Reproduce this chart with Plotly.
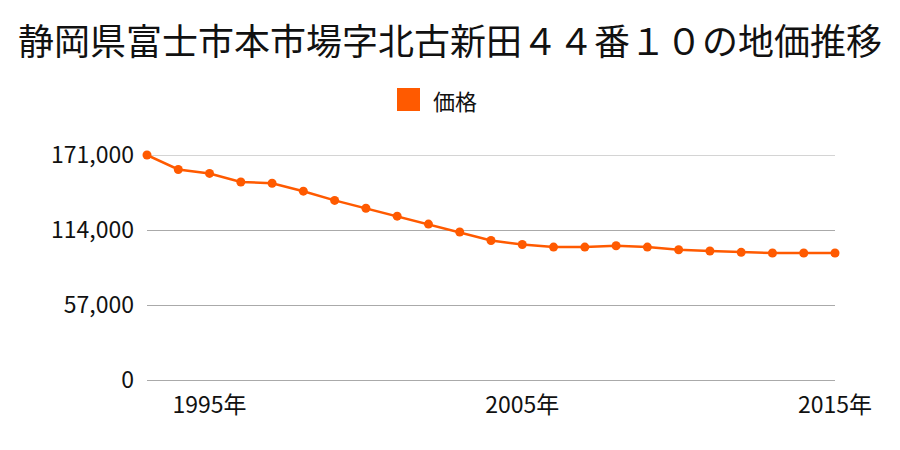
import plotly.graph_objects as go

years = list(range(1993, 2016))
prices = [171000, 160000, 157000, 150500, 149500, 143500, 136500, 130500, 124500,
          118500, 112500, 106000, 103000, 101000, 101000, 102000, 101000, 99000,
          98000, 97000, 96500, 96500, 96500]
y_ticks = [0, 57000, 114000, 171000]
y_labels = ["0", "57,000", "114,000", "171,000"]
x_ticks = [1995, 2005, 2015]
x_labels = ["1995年", "2005年", "2015年"]
title = "静岡県富士市本市場字北古新田４４番１０の地価推移"
series_name = "価格"
color = "#ff5a00"
font = "Noto Sans CJK JP"

fig = go.Figure()
fig.add_trace(go.Scatter(
    x=years, y=prices, mode="lines+markers", name=series_name,
    line=dict(color=color, width=2.5),
    marker=dict(color=color, size=9),
    showlegend=False, cliponaxis=False,
))

fig.update_layout(
    width=900, height=450,
    margin=dict(l=147, r=65, t=155, b=70),
    paper_bgcolor="white", plot_bgcolor="white",
    font=dict(family=font, color="#111111"),
    title=dict(text=title, x=0.5, xanchor="center", y=0.905, yanchor="middle",
               font=dict(size=36, family=font, color="#111111")),
    xaxis=dict(range=[1993, 2015], tickvals=x_ticks, ticktext=x_labels,
               showgrid=False, zeroline=False, showline=False,
               ticks="", tickfont=dict(size=23), ticklabelstandoff=9),
    yaxis=dict(range=[0, y_ticks[-1]], tickvals=y_ticks, ticktext=y_labels,
               showgrid=True, gridcolor="#aaaaaa", gridwidth=1,
               zeroline=True, zerolinecolor="#aaaaaa", zerolinewidth=1,
               showline=False, ticks="",
               tickfont=dict(size=23), ticklabelstandoff=12),
    shapes=[dict(type="rect", xref="paper", yref="paper",
                 x0=(397 - 147) / 688, x1=(420 - 147) / 688,
                 y0=(380 - 111) / 225, y1=(380 - 88) / 225,
                 fillcolor=color, line=dict(width=0)),
            dict(type="line", xref="paper", yref="y", x0=0, x1=1,
                 y0=y_ticks[-1], y1=y_ticks[-1], layer="below",
                 line=dict(color="#aaaaaa", width=1))],
    annotations=[dict(text=series_name, xref="paper", yref="paper",
                      x=(431 - 147) / 688, y=(380 - 100) / 225,
                      xanchor="left", yanchor="middle", showarrow=False,
                      font=dict(size=22, family=font, color="#111111"))],
)

fig.write_html("out.html")
